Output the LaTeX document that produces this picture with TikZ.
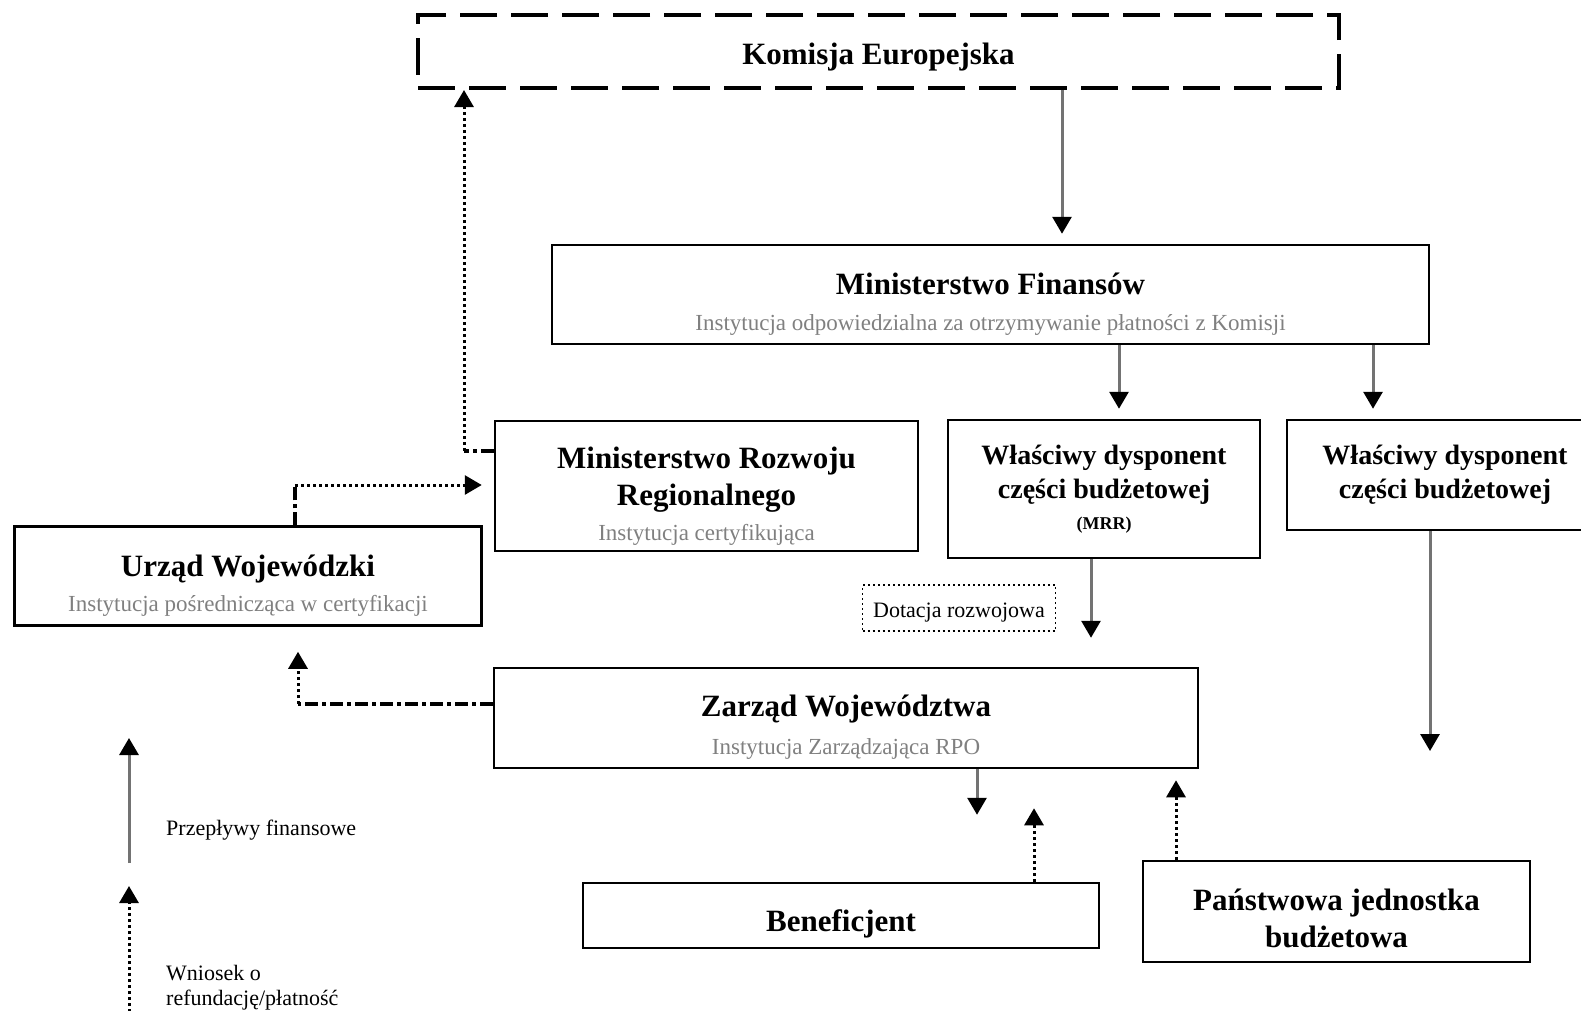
\documentclass[tikz,border=0pt]{standalone}
\usepackage{fontspec}
\setmainfont{Liberation Serif}
\usetikzlibrary{arrows.meta}

\definecolor{subgray}{gray}{0.5}
\definecolor{flowgray}{gray}{0.45}
\newcommand{\boxtitle}{\fontsize{31}{37}\selectfont\bfseries}
\newcommand{\boxsub}{\fontsize{23}{28}\selectfont\mdseries\color{subgray}}
\newcommand{\legendtext}{\fontsize{22}{25}\selectfont}
\newcommand{\tdown}[1]{\rule{0pt}{#1}}

\tikzset{
  box/.style={draw, line width=2.5pt, align=center, inner sep=0pt, font=\boxtitle},
  kebox/.style={box, line width=4pt, dash pattern=on 37pt off 14pt},
  notebox/.style={draw, line width=1.5pt, dash pattern=on 2pt off 3pt, inner sep=0pt, font=\legendtext},
  flow/.style={draw=flowgray, line width=3pt, -{Triangle[length=17pt,width=19pt,color=black]}},
  request/.style={draw=black, line width=3pt, dash pattern=on 3pt off 3pt, -{Triangle[length=17pt,width=19pt]}},
  link/.style={draw=black, line width=3.5pt, dash pattern=on 13pt off 4pt on 4pt off 4pt},
  legend/.style={font=\legendtext, inner sep=0pt, align=left}
}

\begin{document}
\begin{tikzpicture}[x=1pt, y=-1pt]
  \clip (0,0) rectangle (1581,1010);
  % boxes
  \node[kebox, minimum width=921pt, minimum height=73pt] (ke) at (878.5,51.5) {\tdown{32pt}Komisja Europejska};
  \node[box, minimum width=877pt, minimum height=99pt] (mf) at (990.5,294.5)
    {\tdown{40pt}Ministerstwo Finansów\\[-1pt]{\boxsub Instytucja odpowiedzialna za otrzymywanie płatności z Komisji}};
  \node[box, minimum width=423pt, minimum height=130pt] (mrr) at (706.5,486)
    {\tdown{41pt}Ministerstwo Rozwoju\\Regionalnego\\[-2pt]{\boxsub Instytucja certyfikująca}};
  \node[box, minimum width=312pt, minimum height=138pt, font=\fontsize{28}{34}\selectfont\bfseries] (wdc) at (1104,489)
    {Właściwy dysponent\\części budżetowej\\[-3pt]{\fontsize{18}{22}\selectfont (MRR)}};
  \node[box, minimum width=316pt, minimum height=110pt, font=\fontsize{28}{34}\selectfont\bfseries] (wdc2) at (1445,475)
    {Właściwy dysponent\\części budżetowej};
  \node[box, minimum width=467pt, minimum height=99pt] (uw) at (248,576)
    {\tdown{40pt}Urząd Wojewódzki\\[-2pt]{\boxsub Instytucja pośrednicząca w certyfikacji}};
  \node[notebox, minimum width=193pt, minimum height=46pt] (dot) at (959,608) {\tdown{23pt}Dotacja rozwojowa};
  \node[box, minimum width=704pt, minimum height=100pt] (zw) at (846,718)
    {\tdown{40pt}Zarząd Województwa\\[1pt]{\boxsub Instytucja Zarządzająca RPO}};
  \node[box, minimum width=516pt, minimum height=65pt] (ben) at (841,915.5) {\tdown{38pt}Beneficjent};
  \node[box, minimum width=387pt, minimum height=101pt] (pjb) at (1336.5,911.5)
    {\tdown{36pt}Państwowa jednostka\\budżetowa};
  % financial flows
  \draw[flow, shorten >=10pt] (1062,0 |- ke.south) -- (1062,0 |- mf.north);
  \draw[flow, shorten >=10pt] (1119,0 |- mf.south) -- (1119,0 |- wdc.north);
  \draw[flow, shorten >=10pt] (1373,0 |- mf.south) -- (1373,0 |- wdc2.north);
  \draw[flow, shorten >=29pt] (1091,0 |- wdc.south) -- (1091,0 |- zw.north);
  \coordinate (wdcend) at (1430,751);
  \draw[flow] (wdcend |- wdc2.south) -- (wdcend);
  \draw[flow, shorten >=67pt] (977,0 |- zw.south) -- (977,0 |- ben.north);
  % payment requests
  \draw[request, shorten >=39pt] (1034,0 |- ben.north) -- (1034,0 |- zw.south);
  \draw[request, shorten >=11pt] (1176,0 |- pjb.north) -- (1176,0 |- zw.south);
  \coordinate (uwbend) at (295,485);
  \draw[link] (uw.north -| uwbend) -- (uwbend);
  \draw[request, shorten >=12pt] (uwbend) -- (mrr.west |- uwbend);
  \coordinate (mrrbend) at (464,451);
  \draw[link] (mrr.west |- mrrbend) -- (mrrbend);
  \draw[request] (mrrbend) -- (mrrbend |- ke.south);
  \coordinate (zwbend) at (298,704);
  \draw[link] (zw.west |- zwbend) -- (zwbend);
  \draw[request, shorten >=25pt] (zwbend) -- (zwbend |- uw.south);
  % legend
  \coordinate (lgflowa) at (129,863);
  \coordinate (lgflowb) at (129,738);
  \draw[flow] (lgflowa) -- (lgflowb);
  \coordinate (lgreqa) at (129,1012);
  \coordinate (lgreqb) at (129,886);
  \draw[request] (lgreqa) -- (lgreqb);
  \node[legend, anchor=west] (lgflow) at (166,830) {Przepływy finansowe};
  \node[legend, anchor=west] (lgreq) at (166,988) {Wniosek o\\refundację/płatność};
\end{tikzpicture}
\end{document}
